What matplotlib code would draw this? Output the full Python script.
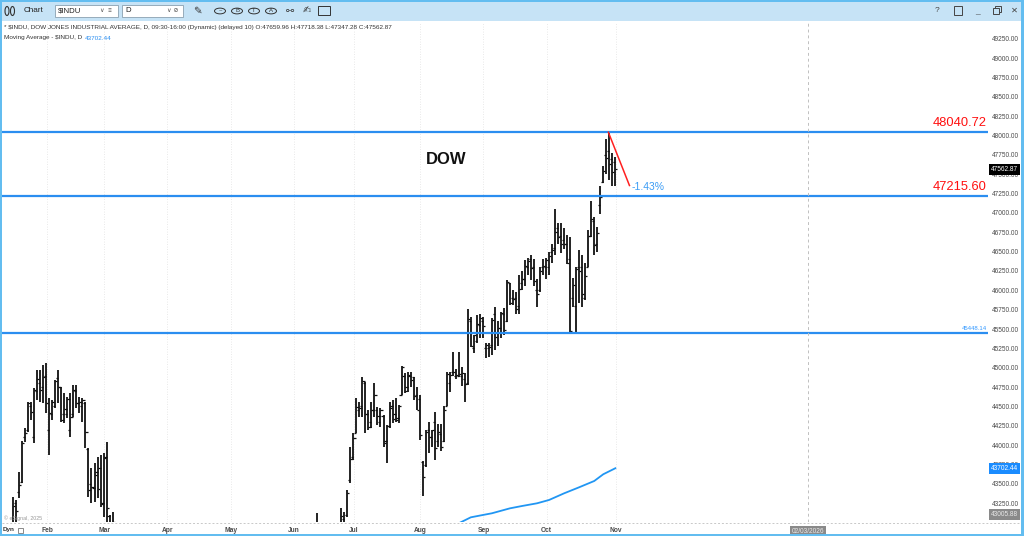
import matplotlib
matplotlib.use("Agg")
import matplotlib.pyplot as plt
import matplotlib.transforms as mtransforms
from matplotlib.patches import Rectangle, Circle, Ellipse
from matplotlib.lines import Line2D
from matplotlib.ticker import FormatStrFormatter
import numpy as np

plt.rcParams['font.family'] = ['Liberation Sans', 'DejaVu Sans']

# daily sessions from 13 Jan 2025 to 31 Oct 2025, one line per month
opens = [
    41900, 42400, 42930, 43250, 43400, 43520, 44100, 44200, 44500, 44100, 44700, 44800, 44750, 44900,
    44200, 44400, 44500, 44870, 44750, 44400, 44400, 44200, 44400, 44700, 44550, 44500, 44550, 43950, 43500, 43450, 43650, 43700, 43250,
    43850, 43090, 42600, 42850, 42500, 42600, 41900, 41600, 41350, 41000, 41450, 41800, 41600, 41800, 41800, 42300, 42600, 42550, 42400, 42200, 41400,
    41900, 41800, 41350, 40300, 37500, 38900, 37400, 40200, 39500, 40600, 40500, 40100, 39800, 38900, 38500, 39950, 39600, 39950, 40100, 40150, 40300,
    40900, 41000, 41150, 41000, 40900, 41250, 41400, 42000, 42400, 42150, 41950, 42300, 42400, 42700, 42600, 41850, 41450, 41900, 42350, 42150, 42150,
    42200, 42300, 42500, 42450, 42550, 42750, 42800, 42900, 42850, 42650, 42300, 42450, 42200, 42300, 42200, 42800, 43050, 43100, 43550, 43850,
    44160, 44450, 44500, 44800, 44400, 44300, 44450, 44450, 44300, 44380, 44050, 44250, 44500, 44400, 44350, 44650, 44900, 44750, 44900, 44880, 44650, 44600,
    43780, 43750, 44200, 44100, 44300, 44050, 44150, 44050, 44500, 44800, 44950, 44900, 44900, 44900, 44850, 44800, 45600, 45250, 45350, 45550, 45600,
    45250, 45250, 45300, 45700, 45450, 45520, 45700, 45600, 46090, 45900, 45900, 45800, 46100, 46150, 46300, 46400, 46300, 46000, 46000, 46300, 46300,
    46300, 46500, 46550, 46800, 46700, 46650, 46600, 46400, 45900, 45800, 46300, 46300, 45900, 46300, 46700, 46900, 46600, 47100, 47400, 47750, 47800, 47700, 47659.96,
]
highs = [
    42330, 42650, 43336, 43293, 43659, 44060, 44219, 44563, 44563, 44736, 44973, 44973, 45037, 45059,
    44607, 44585, 44844, 44973, 44757, 44671, 44628, 44671, 44779, 44779, 44628, 44607, 44563, 43960, 43702, 43767, 43853, 43874, 43896,
    44047, 43099, 43142, 42980, 42900, 42700, 42100, 41800, 41500, 41550, 41950, 41850, 42150, 42200, 42000, 42650, 42700, 42800, 42550, 42250, 42100,
    42050, 42350, 41400, 40400, 39000, 39400, 40700, 40300, 40300, 40900, 40700, 40300, 39900, 38950, 39300, 40400, 40150, 40150, 40400, 40600, 40700,
    41000, 41400, 41350, 41100, 41300, 41700, 41500, 42450, 42450, 42250, 42350, 42670, 42800, 42850, 42700, 42150, 41850, 42400, 42400, 42300, 42350,
    42400, 42550, 42600, 42650, 42850, 42850, 42950, 43120, 42990, 42700, 42700, 42550, 42500, 42600, 42600, 43185, 43142, 43422, 43982, 44154,
    44606, 44563, 44886, 44822, 44456, 44563, 44800, 44499, 44477, 44391, 44262, 44563, 44585, 44606, 44520, 45024, 44930, 44951, 44951, 44886, 44757, 44650,
    43790, 44200, 44305, 44200, 44430, 44280, 44280, 44500, 44950, 44950, 45200, 44980, 45210, 45010, 44930, 45760, 45660, 45420, 45680, 45700, 45660,
    45320, 45320, 45640, 45790, 45600, 45720, 45770, 46135, 46100, 46000, 45980, 46200, 46250, 46390, 46420, 46460, 46400, 46140, 46300, 46400, 46420,
    46500, 46600, 47049, 46870, 46870, 46800, 46720, 46690, 46160, 46300, 46520, 46450, 46350, 46780, 47150, 46950, 46820, 47350, 47600, 47950, 48040.72, 47770, 47718.38,
]
lows = [
    41840, 42300, 42880, 42950, 43315, 43508, 44047, 44176, 44326, 44025, 44585, 44563, 44542, 44413,
    43874, 44326, 44477, 44542, 44305, 44283, 44348, 44111, 44369, 44477, 44413, 44305, 43960, 43336, 43250, 43271, 43315, 43207, 43078,
    42950, 42250, 42300, 42300, 41850, 41700, 41250, 41100, 40700, 40950, 41400, 41450, 41550, 41750, 41450, 42250, 42450, 42300, 42150, 41550, 41150,
    41500, 41700, 40450, 38300, 36600, 37500, 37000, 38000, 39200, 40200, 40250, 39350, 39100, 37950, 38450, 39500, 39450, 39700, 39800, 40050, 39800,
    40650, 40950, 41050, 40750, 40700, 41150, 41150, 41900, 42050, 41950, 41800, 42250, 42300, 42550, 41800, 41700, 41350, 41850, 42050, 41900, 41850,
    41950, 42200, 42350, 42250, 42500, 42650, 42700, 42800, 42700, 42150, 42300, 42200, 42100, 42150, 42000, 42800, 42900, 43078, 43508, 43810,
    44154, 44370, 44370, 44154, 44197, 44219, 44370, 44262, 44240, 43982, 43767, 44219, 44283, 44305, 44283, 44650, 44671, 44693, 44757, 44585, 44456, 44068,
    43340, 43720, 43900, 43980, 43810, 43980, 43920, 44040, 44500, 44690, 44900, 44860, 44880, 44770, 44560, 44780, 45270, 45190, 45320, 45380, 45380,
    45120, 45140, 45170, 45230, 45280, 45380, 45420, 45590, 45810, 45810, 45700, 45700, 46000, 46050, 46200, 46130, 46050, 45790, 45980, 46200, 46150,
    46200, 46350, 46460, 46600, 46480, 46540, 46340, 45448.14, 45790, 45460, 45830, 45790, 45880, 46300, 46690, 46460, 46500, 46980, 47380, 47500, 47420, 47350, 47347.28,
]
closes = [
    42297, 42518, 43221, 43153, 43488, 44025, 44156, 44550, 44424, 44713, 44850, 44713, 44882, 44544,
    44421, 44556, 44830, 44747, 44320, 44470, 44593, 44368, 44711, 44546, 44556, 44590, 44176, 43428, 43461, 43621, 43433, 43239, 43841,
    43191, 42520, 43006, 42579, 42801, 41911, 41433, 41350, 40813, 41488, 41841, 41581, 41964, 41953, 41985, 42583, 42587, 42455, 42300, 41584, 42002,
    41990, 42226, 40546, 38315, 37966, 37646, 40609, 39594, 40213, 40525, 40369, 39669, 39142, 38170, 39187, 39607, 40093, 40114, 40228, 40527, 40669,
    40753, 41317, 41219, 40829, 41114, 41368, 41249, 42410, 42140, 42051, 42323, 42655, 42792, 42677, 41860, 41859, 41603, 42343, 42098, 42216, 42270,
    42305, 42519, 42427, 42320, 42763, 42762, 42867, 42865, 42968, 42198, 42515, 42215, 42172, 42207, 42582, 43089, 42982, 43387, 43819, 44095,
    44495, 44484, 44829, 44406, 44241, 44458, 44651, 44371, 44460, 44023, 44254, 44484, 44342, 44323, 44502, 45010, 44694, 44902, 44838, 44633, 44461, 44131,
    43589, 44174, 44112, 44193, 43969, 44176, 43975, 44459, 44922, 44911, 44946, 44912, 44922, 44938, 44785, 45632, 45282, 45418, 45565, 45637, 45545,
    45296, 45271, 45621, 45401, 45515, 45711, 45490, 46108, 45834, 45883, 45758, 46018, 46142, 46315, 46381, 46292, 46121, 45947, 46247, 46316, 46398,
    46441, 46519, 46758, 46695, 46603, 46602, 46358, 45480, 46068, 46270, 46253, 45952, 46191, 46707, 46925, 46591, 46735, 47207, 47545, 47707, 47632, 47522, 47562.87,
]

# month starts (session index) and labels
month_names = ["Feb", "Mar", "Apr", "May", "Jun", "Jul", "Aug", "Sep", "Oct", "Nov"]
month_first_bar = [14, 33, 54, 75, 96, 116, 138, 159, 180, 203]

# moving average (visible part only)
ma_bars = [146, 150, 154, 158, 161, 167, 171, 176, 180, 185, 190, 195, 198, 202]
ma_values = [42950, 42992, 43069, 43099, 43121, 43185, 43215, 43250, 43293, 43379, 43457, 43538, 43625, 43702.44]
ma_last = 43702.44

top_level = 48040.72
mid_level = 47215.60
low_level = 45448.14
drop_pct = -1.43
last_close = 47562.87
axis_bottom = 43005.88
cursor_bar = 266

W, H = 1024, 536
fig = plt.figure(figsize=(W / 100, H / 100), dpi=100)
fig.patch.set_facecolor('white')


def box(x0, y0, x1, y1):
    return [x0 / W, 1 - y1 / H, (x1 - x0) / W, (y1 - y0) / H]


def ftext(x, y, s, **kw):
    fig.text(x / W, 1 - y / H, s, **kw)


def frect(x, y, w, h, **kw):
    # pixel rectangle, y from the top
    fig.add_artist(Rectangle((x / W, 1 - (y + h) / H), w / W, h / H, **kw))


ax = fig.add_axes(box(2, 22, 988, 522.2))
ax.set_facecolor('white')

idx = np.arange(len(closes))
ax.vlines(idx, lows, highs, color='#111111', lw=1.3)
ax.hlines(opens, idx - 0.7, idx, color='#111111', lw=0.9)
ax.hlines(closes, idx, idx + 0.7, color='#111111', lw=0.9)

ax.plot(ma_bars, ma_values, color='#2196f3', lw=1.3)

blue = '#2b8ef0'
for lvl in (top_level, mid_level, low_level):
    ax.axhline(lvl, color=blue, lw=1.6)

yx = mtransforms.blended_transform_factory(ax.transAxes, ax.transData)
ax.text(0.999, top_level + 40, f"{top_level:.2f}", transform=yx, ha='right', va='bottom',
        color='#ff1010', fontsize=9.3)
ax.text(0.999, mid_level + 40, f"{mid_level:.2f}", transform=yx, ha='right', va='bottom',
        color='#ff1010', fontsize=9.3)
ax.text(0.999, low_level + 30, f"{low_level:.2f}", transform=yx, ha='right', va='bottom',
        color='#3399ff', fontsize=4.3)

# drop from the high
drop_to = top_level * (1 + drop_pct / 100)
ax.plot([199.7, 206.7], [top_level, drop_to], color='#ff2020', lw=1.1)
ax.text(207.5, drop_to - 15, f"{drop_pct:.2f}%", color='#3d9df5', fontsize=7.5, ha='left', va='center')

ax.text(145.8, 47686, "DOW", fontsize=12, fontweight='bold', ha='center', va='center', color='#111111')

ax.axvline(cursor_bar, color='#c0c0c0', lw=0.7, ls=(0, (3, 3)))

ax.set_xlim(-1.73, 325.8)
ax.set_ylim(axis_bottom, 49465)

ax.yaxis.tick_right()
ax.set_yticks(np.arange(43250, 49251, 250))
ax.yaxis.set_major_formatter(FormatStrFormatter('%.2f'))
ax.tick_params(axis='y', length=0, pad=2.5, labelsize=4.7, labelcolor='#4a4a4a')
ax.set_xticks([m - 0.8 for m in month_first_bar])
ax.set_xticklabels(month_names, fontweight='bold')
ax.tick_params(axis='x', length=0, pad=3.5, labelsize=4.8, labelcolor='#4a4a4a')
ax.grid(axis='x', color='#e2e2e2', lw=0.6, ls=(0, (1, 2)))
ax.set_axisbelow(True)
for s in ax.spines.values():
    s.set_visible(False)

# price tags on the right scale
tag = dict(boxstyle='square,pad=0.3', ec='none')
ax.text(1.003, last_close, f"{last_close:.2f}", transform=yx, ha='left', va='center', fontsize=4.7,
        color='white', bbox=dict(fc='black', **tag))
ax.text(1.003, ma_last, f"{ma_last:.2f}", transform=yx, ha='left', va='center', fontsize=4.7,
        color='white', bbox=dict(fc='#1a8cff', **tag))
ax.text(1.003, 0.008, f"{axis_bottom:.2f}", transform=ax.transAxes, ha='left', va='bottom', fontsize=4.7,
        color='#e8e8e8', bbox=dict(fc='#8a8a8a', **tag))
xt = mtransforms.blended_transform_factory(ax.transData, ax.transAxes)
ax.text(cursor_bar, -0.012, "02/03/2026", transform=xt, ha='center', va='top', fontsize=4.7,
        color='#e8e8e8', bbox=dict(fc='#8a8a8a', **tag))

# bottom dotted border of the plot
fig.add_artist(Line2D([2 / W, 1020 / W], [1 - 522.5 / H] * 2, color='#c8c8c8', lw=0.7, ls=(0, (2, 2))))

# legend text
ftext(4, 28, "* $INDU, DOW JONES INDUSTRIAL AVERAGE, D, 09:30-16:00 (Dynamic) (delayed 10) "
      "O:47659.96 H:47718.38 L:47347.28 C:47562.87", fontsize=4.6, color='#333333', va='center')
ftext(4, 38, "Moving Average - $INDU, D", fontsize=4.6, color='#333333', va='center')
ftext(85, 38, f"{ma_last:.2f}", fontsize=4.6, color='#2b8ef0', va='center')
ftext(4, 518, "© eSignal, 2025", fontsize=3.8, color='#999999', va='center')
ftext(3, 530, "Dyn", fontsize=4.6, color='#333333', fontweight='bold', va='center')
frect(18, 528, 5, 5, fc='none', ec='#777777', lw=0.6)

# title bar
frect(0, 0, W, 21, fc='#c6e3f6', ec='none')
fig.add_artist(Ellipse((7 / W, 1 - 11 / H), 4 / W, 9 / H, fc='none', ec='#333333', lw=0.8))
fig.add_artist(Ellipse((12.5 / W, 1 - 11 / H), 4 / W, 9 / H, fc='none', ec='#333333', lw=0.8))
ftext(24, 11, "Chart", fontsize=5.9, color='#222222', va='center')
frect(55, 5, 63, 12, fc='white', ec='#8aa0b0', lw=0.6)
ftext(58, 11, "$INDU", fontsize=5.6, color='#222222', va='center')
ftext(100, 11, "∨  ≡", fontsize=4.5, color='#555555', va='center')
frect(122, 5, 61, 12, fc='white', ec='#8aa0b0', lw=0.6)
ftext(125, 11, "D", fontsize=5.6, color='#222222', va='center')
ftext(167, 11, "∨ ⊘", fontsize=4.5, color='#555555', va='center')
ftext(197, 11, "✎", fontsize=7.5, color='#333333', va='center', ha='center')
for cx, letter in [(220, "~"), (237, "B"), (254, "T"), (271, "A")]:
    fig.add_artist(Circle((cx / W, 1 - 11 / H), 5.5 / W, fc='none', ec='#333333', lw=0.7,
                          transform=fig.transFigure))
    ftext(cx, 11, letter, fontsize=4.3, color='#333333', va='center', ha='center')
ftext(290, 11, "⚯", fontsize=7, color='#333333', va='center', ha='center')
ftext(307, 11, "✍", fontsize=7, color='#333333', va='center', ha='center')
frect(318, 6, 12, 9, fc='none', ec='#333333', lw=0.7)
ftext(937, 11, "?", fontsize=6, color='#444444', va='center', ha='center')
frect(954, 6, 8, 9, fc='none', ec='#444444', lw=0.7)
ftext(977, 12, "_", fontsize=6, color='#444444', va='center', ha='center')
# restore icon: two overlapping squares
frect(995, 6, 6, 6, fc='none', ec='#444444', lw=0.7)
frect(993, 8, 6, 6, fc='#c6e3f6', ec='#444444', lw=0.7)
ftext(1014, 11, "✕", fontsize=6, color='#444444', va='center', ha='center')

# window frame
frame = '#63bdf0'
frect(0, 0, 1.5, H, fc=frame, ec='none')
frect(1021, 0, 3, H, fc=frame, ec='none')
frect(0, H - 2.5, W, 2.5, fc=frame, ec='none')
frect(0, 0, W, 1.5, fc=frame, ec='none')

fig.savefig('out.png', dpi=100)
